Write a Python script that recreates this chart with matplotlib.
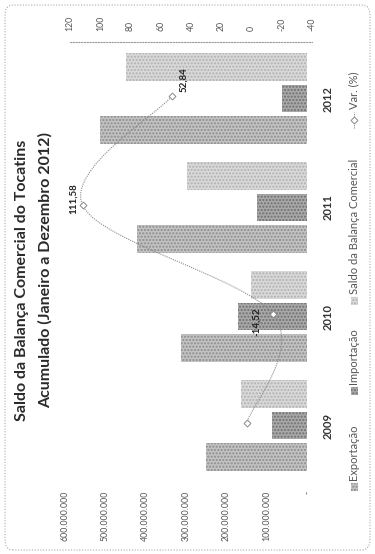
import numpy as np
import matplotlib
matplotlib.use("Agg")
from matplotlib import pyplot as plt
from matplotlib.path import Path
from matplotlib.patches import PathPatch, Rectangle, FancyBboxPatch
from matplotlib.lines import Line2D

plt.rcParams['font.family'] = ['Lato', 'DejaVu Sans']

# dados
anos = ["2009", "2010", "2011", "2012"]
exportacao = [250e6, 312e6, 422e6, 512e6]
importacao = [87e6, 172e6, 125e6, 62e6]
saldo = [163e6, 140e6, 297e6, 450e6]
variacao = [3.3, -14.52, 111.58, 52.84]
rotulos_var = ["", "-14,52", "111,58", "52,84"]
series = ["Exportação", "Importação", "Saldo da Balança Comercial"]
nome_var = "Var. (%)"
val_ticks = [0, 100e6, 200e6, 300e6, 400e6, 500e6, 600e6]
val_labels = ["-", "100.000.000", "200.000.000", "300.000.000",
              "400.000.000", "500.000.000", "600.000.000"]
var_ticks = [-40, -20, 0, 20, 40, 60, 80, 100, 120]

cores = ["#c2c2c2", "#a9a9a9", "#d9d9d9"]
hatch_cor = ["#8c8c8c", "#6e6e6e", "#b0b0b0"]
offsets = [-0.29, 0.0, 0.29]

W, H = 375, 554
fig = plt.figure(figsize=(W / 100, H / 100), dpi=100)

def fx(px):
    return px / W

def fy(py):
    return 1 - py / H

ax = fig.add_axes([fx(65), fy(480), fx(307) - fx(65), fy(44) - fy(480)])
y = np.arange(len(anos))
for vals, off, c, hc in zip([exportacao, importacao, saldo], offsets, cores, hatch_cor):
    ax.barh(y + off, vals, height=0.25, color=c, edgecolor=hc, hatch='.....', linewidth=0)
ax.set_xlim(600e6, 0)
ax.set_ylim(-0.5, 3.5)
ax.set_xticks(val_ticks)
ax.set_xticklabels(val_labels, rotation=90, fontsize=6.3, color="#555555")
ax.set_yticks([])
ax.tick_params(axis='x', length=0, pad=8)
for s in ax.spines.values():
    s.set_visible(False)

for i, ano in enumerate(anos):
    ax.annotate(ano, xy=(0, i), xytext=(15, 0), textcoords='offset points',
                rotation=90, ha='center', va='center', fontsize=8,
                fontweight='bold', color="#333333")

# eixo secundario (Var %)
ax2 = fig.add_axes([fx(70), fy(480), fx(312) - fx(70), fy(42) - fy(480)])
ax2.patch.set_visible(False)
ax2.set_xlim(120, -40)
ax2.set_ylim(-0.5 - 2 / 108.9, 3.5)
ax2.xaxis.tick_top()
ax2.set_xticks(var_ticks)
ax2.set_xticklabels([str(t) for t in var_ticks], rotation=90, fontsize=6.3, color="#555555")
ax2.set_yticks([])
ax2.tick_params(axis='x', length=0, pad=8)
for s in ax2.spines.values():
    s.set_visible(False)
ax2.spines['top'].set_visible(True)
ax2.spines['top'].set_linestyle((0, (1, 1.5)))
ax2.spines['top'].set_color("#9a9a9a")
ax2.spines['top'].set_linewidth(0.8)

# linha suavizada (catmull-rom -> bezier)
pts = np.column_stack([variacao, y])
ext = np.vstack([pts[0], pts, pts[-1]])
verts = [tuple(pts[0])]
codes = [Path.MOVETO]
for k in range(len(pts) - 1):
    p0, p1, p2, p3 = ext[k], ext[k + 1], ext[k + 2], ext[k + 3]
    c1 = p1 + (p2 - p0) / 6
    c2 = p2 - (p3 - p1) / 6
    verts += [tuple(c1), tuple(c2), tuple(p2)]
    codes += [Path.CURVE4] * 3
ax2.add_patch(PathPatch(Path(verts, codes), fill=False, edgecolor="#8a8a8a",
                        linewidth=0.8, linestyle=(0, (1, 1))))
ax2.plot(variacao, y, linestyle='none', marker='D', markersize=3.5,
         markerfacecolor='white', markeredgecolor="#8a8a8a", markeredgewidth=0.7)

offs_lbl = [(0, 0), (-12, -5), (-7, 5), (9, 12)]
for i, txt in enumerate(rotulos_var):
    if txt:
        ax2.annotate(txt, xy=(variacao[i], i), xytext=offs_lbl[i], textcoords='offset points',
                     rotation=90, ha='center', va='center', fontsize=7,
                     fontweight='bold', color="#222222")

# titulo
fig.text(fx(22), fy(280), "Saldo da Balança Comercial do Tocatins", rotation=90,
         ha='center', va='center', fontsize=11.5, fontweight='bold', color="#2a2a2a")
fig.text(fx(45), fy(270), "Acumulado (Janeiro a Dezembro 2012)", rotation=90,
         ha='center', va='center', fontsize=11.5, fontweight='bold', color="#2a2a2a")

# legenda (rotacionada)
leg_x = 354
leg_pos = [487, 391, 301]
for nome, py, c, hc in zip(series, leg_pos, cores, hatch_cor):
    fig.patches.append(Rectangle((fx(leg_x - 3.5), fy(py + 4)), fx(7), 8 / H,
                                 transform=fig.transFigure, facecolor=c, edgecolor=hc,
                                 hatch='.....', linewidth=0))
    fig.text(fx(leg_x), fy(py - 7), nome, rotation=90, rotation_mode='anchor',
             ha='left', va='center', fontsize=8, color="#555555")
fig.lines.append(Line2D([fx(leg_x), fx(leg_x)], [fy(128), fy(112)], transform=fig.transFigure,
                        color="#8a8a8a", linewidth=0.8, linestyle=(0, (1, 1))))
fig.lines.append(Line2D([fx(leg_x)], [fy(120)], transform=fig.transFigure, marker='D',
                        markersize=3.5, markerfacecolor='white', markeredgecolor="#8a8a8a",
                        markeredgewidth=0.7))
fig.text(fx(leg_x), fy(109), nome_var, rotation=90, rotation_mode='anchor',
         ha='left', va='center', fontsize=8, color="#555555")

# borda pontilhada
fig.patches.append(FancyBboxPatch((fx(5), fy(550)), fx(365), 545 / H,
                                  boxstyle="round,pad=0,rounding_size=0.02",
                                  transform=fig.transFigure, fill=False,
                                  edgecolor="#aaaaaa", linewidth=0.8, linestyle=(0, (1, 1.5))))

fig.savefig("out.png", dpi=100)
